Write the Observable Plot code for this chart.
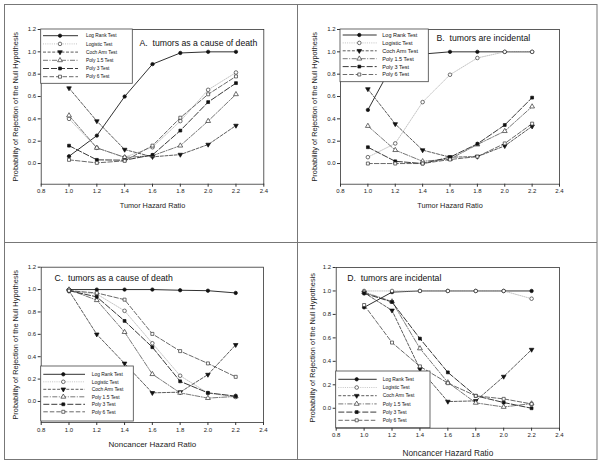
<!DOCTYPE html>
<html><head><meta charset="utf-8">
<script src="https://cdn.jsdelivr.net/npm/d3@7"></script>
<script src="https://cdn.jsdelivr.net/npm/@observablehq/plot@0.6"></script>
<style>
body{margin:0;background:#fff;}
#wrap{position:relative;width:600px;height:462px;font-family:Arial,"Liberation Sans",sans-serif;background:#fff;}
.panel{position:absolute;}
#borders{position:absolute;left:0;top:0;pointer-events:none;}
</style></head><body><div id="wrap"></div>
<script>
// ---- data ----
const hazardRatio = [1.0, 1.2, 1.4, 1.6, 1.8, 2.0, 2.2];
const testNames = ["Log Rank Test", "Logistic Test", "Coch Arm Test", "Poly 1.5 Test", "Poly 3 Test", "Poly 6 Test"];
const xTicks = [0.8, 1.0, 1.2, 1.4, 1.6, 1.8, 2.0, 2.2, 2.4];
const yTicks = [0.0, 0.2, 0.4, 0.6, 0.8, 1.0, 1.2];

// Panel A: tumors as a cause of death (tumor hazard ratio)
const aLogRank  = [0.065, 0.25, 0.60, 0.89, 0.99, 1.0, 1.0];
const aLogistic = [0.40, 0.14, 0.057, 0.146, 0.38, 0.66, 0.815];
const aCochArm  = [0.675, 0.38, 0.125, 0.06, 0.08, 0.17, 0.34];
const aPoly15   = [0.43, 0.14, 0.055, 0.07, 0.16, 0.38, 0.62];
const aPoly3    = [0.16, 0.033, 0.03, 0.077, 0.295, 0.55, 0.72];
const aPoly6    = [0.033, 0.006, 0.024, 0.16, 0.41, 0.62, 0.78];

// Panel B: tumors are incidental (tumor hazard ratio)
const bLogRank  = [0.48, 0.93, 0.98, 1.0, 1.0, 1.0, 1.0];
const bLogistic = [0.057, 0.18, 0.55, 0.795, 0.945, 1.0, 1.0];
const bCochArm  = [0.667, 0.354, 0.12, 0.057, 0.062, 0.158, 0.333];
const bPoly15   = [0.336, 0.12, 0.02, 0.04, 0.17, 0.29, 0.51];
const bPoly3    = [0.146, 0.02, 0.0, 0.057, 0.176, 0.345, 0.59];
const bPoly6    = [0.0, 0.0, 0.0, 0.036, 0.062, 0.18, 0.357];

// Panel C: tumors as a cause of death (noncancer hazard ratio)
const cLogRank  = [1.0, 1.0, 1.0, 1.0, 0.994, 0.99, 0.97];
const cLogistic = [0.99, 0.96, 0.81, 0.52, 0.23, 0.075, 0.04];
const cCochArm  = [0.99, 0.60, 0.34, 0.077, 0.083, 0.24, 0.506];
const cPoly15   = [1.0, 0.905, 0.62, 0.244, 0.077, 0.03, 0.045];
const cPoly3    = [0.99, 0.935, 0.72, 0.485, 0.18, 0.077, 0.048];
const cPoly6    = [0.99, 0.97, 0.91, 0.604, 0.45, 0.34, 0.22];

// Panel D: tumors are incidental (noncancer hazard ratio)
const dLogRank  = [0.86, 0.99, 1.0, 1.0, 1.0, 1.0, 1.0];
const dLogistic = [1.0, 1.0, 1.0, 1.0, 1.0, 1.0, 0.934];
const dCochArm  = [0.985, 0.834, 0.334, 0.057, 0.063, 0.27, 0.50];
const dPoly15   = [0.99, 0.91, 0.51, 0.22, 0.046, 0.011, 0.04];
const dPoly3    = [0.98, 0.906, 0.594, 0.306, 0.106, 0.049, 0.0];
const dPoly6    = [0.88, 0.56, 0.357, 0.214, 0.106, 0.08, 0.037];

// ---- styles ----
const downTriangle = {
  draw(context, size) {
    const y = -Math.sqrt(size / (Math.sqrt(3) * 3));
    context.moveTo(0, -y * 2);
    context.lineTo(-Math.sqrt(3) * y, y);
    context.lineTo(Math.sqrt(3) * y, y);
    context.closePath();
  }
};
const styles = [
  {stroke: "#1a1a1a", dash: null, w: 0.9, symbol: "circle", d3sym: d3.symbolCircle, fill: "#111", mstroke: "#111", r: 1.7},
  {stroke: "#b5b5b5", dash: "1,1.2", w: 0.8, symbol: "circle", d3sym: d3.symbolCircle, fill: "white", mstroke: "#333", r: 1.8},
  {stroke: "#333", dash: "3,1.6", w: 0.8, symbol: downTriangle, d3sym: downTriangle, fill: "#111", mstroke: "#111", r: 1.7},
  {stroke: "#555", dash: "5,1.5,1,1.5", w: 0.8, symbol: "triangle", d3sym: d3.symbolTriangle, fill: "white", mstroke: "#333", r: 1.8},
  {stroke: "#222", dash: "6,2", w: 0.9, symbol: "square", d3sym: d3.symbolSquare, fill: "#111", mstroke: "#111", r: 1.6},
  {stroke: "#444", dash: "4.5,2", w: 0.8, symbol: "square", d3sym: d3.symbolSquare, fill: "white", mstroke: "#333", r: 1.7}
];

const panels = [
  {left: 0, top: 0, series: [aLogRank, aLogistic, aCochArm, aPoly15, aPoly3, aPoly6],
   mt: 29, mb: 47.3, ml: 40.7, mr: 36.7, ymin: -0.185,
   title: "A.  tumors as a cause of death", tdx: 98.3, tdy: 13.7, tsize: 8.7,
   xlabel: "Tumor Hazard Ratio", xsize: 7.3, xdy: 21.5, ydx: -26,
   leg: {x: 40.7, y: 29, w: 91.6, h: 54.3, l0: 43, l1: 78, mx: 60, tx: 86, r0: 35.7, dy: 8.2, fs: 4.8}},
  {left: 300, top: 0, series: [bLogRank, bLogistic, bCochArm, bPoly15, bPoly3, bPoly6],
   mt: 29, mb: 47.3, ml: 40, mr: 41, ymin: -0.185,
   title: "B.  tumors are incidental", tdx: 96, tdy: 8.7, tsize: 8.7,
   xlabel: "Tumor Hazard Ratio", xsize: 7.3, xdy: 21.5, ydx: -26,
   leg: {x: 40, y: 29, w: 88.3, h: 52.7, l0: 42.7, l1: 76.7, mx: 59.3, tx: 82.3, r0: 35, dy: 7.9, fs: 5.5}},
  {left: 0, top: 231, series: [cLogRank, cLogistic, cCochArm, cPoly15, cPoly3, cPoly6],
   mt: 35.7, mb: 40, ml: 40.7, mr: 37, ymin: -0.188,
   title: "C.  tumors as a cause of death", tdx: 13.3, tdy: 11, tsize: 8.7,
   xlabel: "Noncancer Hazard Ratio", xsize: 8, xdy: 22, ydx: -26,
   leg: {x: 40.7, y: 135, w: 92.6, h: 55, l0: 43.3, l1: 85, mx: 63.3, tx: 91.7, r0: 143.3, dy: 7.5, fs: 4.9}},
  {left: 300, top: 231, series: [dLogRank, dLogistic, dCochArm, dPoly15, dPoly3, dPoly6],
   mt: 36, mb: 34.3, ml: 35.7, mr: 41, ymin: -0.17,
   title: "D.  tumors are incidental", tdx: 11, tdy: 10.7, tsize: 8.7,
   xlabel: "Noncancer Hazard Ratio", xsize: 8.3, xdy: 25, ydx: -24,
   leg: {x: 35.7, y: 140, w: 94.3, h: 56.7, l0: 38.3, l1: 76.7, mx: 56.7, tx: 82.7, r0: 148.3, dy: 8.2, fs: 4.9}}
];

const wrap = document.getElementById("wrap");
const fmt = d3.format(".1f");

panels.forEach(cfg => {
  const marks = [];
  cfg.series.forEach((vals, i) => {
    const st = styles[i];
    const rows = hazardRatio.map((x, j) => ({x, y: vals[j]}));
    marks.push(Plot.line(rows, {x: "x", y: "y", stroke: st.stroke, strokeWidth: st.w, strokeDasharray: st.dash}));
  });
  cfg.series.forEach((vals, i) => {
    const st = styles[i];
    const rows = hazardRatio.map((x, j) => ({x, y: vals[j]}));
    marks.push(Plot.dot(rows, {x: "x", y: "y", symbol: st.symbol, r: st.r, fill: st.fill, stroke: st.mstroke, strokeWidth: 0.7}));
  });
  marks.push(Plot.frame({stroke: "#333", strokeWidth: 0.8}));
  marks.push(Plot.axisX({ticks: xTicks, tickFormat: fmt, tickSize: 3, tickPadding: 2, fontSize: 6, label: null, stroke: "#333", fill: "#222"}));
  marks.push(Plot.axisY({ticks: yTicks, tickFormat: fmt, tickSize: 3, tickPadding: 2, fontSize: 6, label: null, stroke: "#333", fill: "#222"}));
  marks.push(Plot.text([cfg.title], {frameAnchor: "top-left", dx: cfg.tdx, dy: cfg.tdy, textAnchor: "start", lineAnchor: "middle", fontSize: cfg.tsize, fill: "#111"}));
  marks.push(Plot.text([cfg.xlabel], {frameAnchor: "bottom", dy: cfg.xdy, textAnchor: "middle", lineAnchor: "middle", fontSize: cfg.xsize, fill: "#222"}));
  marks.push(Plot.text(["Probability of Rejection of the Null Hypothesis"], {frameAnchor: "left", dx: cfg.ydx, rotate: -90, textAnchor: "middle", lineAnchor: "middle", fontSize: 7.4, fill: "#222"}));

  const svg = Plot.plot({
    width: 300, height: 231,
    marginTop: cfg.mt, marginBottom: cfg.mb, marginLeft: cfg.ml, marginRight: cfg.mr,
    x: {domain: [0.8, 2.4]},
    y: {domain: [cfg.ymin, 1.2]},
    style: {fontFamily: "Arial, 'Liberation Sans', sans-serif", background: "transparent", color: "#222"},
    marks
  });

  // legend box inside the frame
  const L = cfg.leg;
  const g = d3.select(svg).append("g").attr("text-anchor", "start");
  g.append("rect").attr("x", L.x).attr("y", L.y).attr("width", L.w).attr("height", L.h)
    .attr("fill", "white").attr("stroke", "#444").attr("stroke-width", 0.8);
  testNames.forEach((name, i) => {
    const st = styles[i];
    const yy = L.r0 + i * L.dy;
    g.append("line").attr("x1", L.l0).attr("x2", L.l1).attr("y1", yy).attr("y2", yy)
      .attr("stroke", st.stroke).attr("stroke-width", st.w).attr("stroke-dasharray", st.dash);
    g.append("path").attr("transform", `translate(${L.mx},${yy})`)
      .attr("d", d3.symbol().type(st.d3sym).size(Math.PI * st.r * st.r)())
      .attr("fill", st.fill).attr("stroke", st.mstroke).attr("stroke-width", 0.7);
    g.append("text").attr("x", L.tx).attr("y", yy).attr("dy", "0.35em").attr("text-anchor", "start")
      .attr("font-size", L.fs).attr("fill", "#111").text(name);
  });

  const div = document.createElement("div");
  div.className = "panel";
  div.style.left = cfg.left + "px";
  div.style.top = cfg.top + "px";
  div.appendChild(svg);
  wrap.appendChild(div);
});

// panel borders
const b = d3.select(wrap).append("svg").attr("id", "borders").attr("width", 600).attr("height", 462);
b.append("rect").attr("x", 4.5).attr("y", 4.5).attr("width", 592.5).attr("height", 455)
  .attr("fill", "none").attr("stroke", "#777").attr("stroke-width", 1);
b.append("line").attr("x1", 297.5).attr("x2", 297.5).attr("y1", 4.5).attr("y2", 459.5).attr("stroke", "#777");
b.append("line").attr("x1", 4.5).attr("x2", 597).attr("y1", 242.5).attr("y2", 242.5).attr("stroke", "#777");
</script></body></html>
